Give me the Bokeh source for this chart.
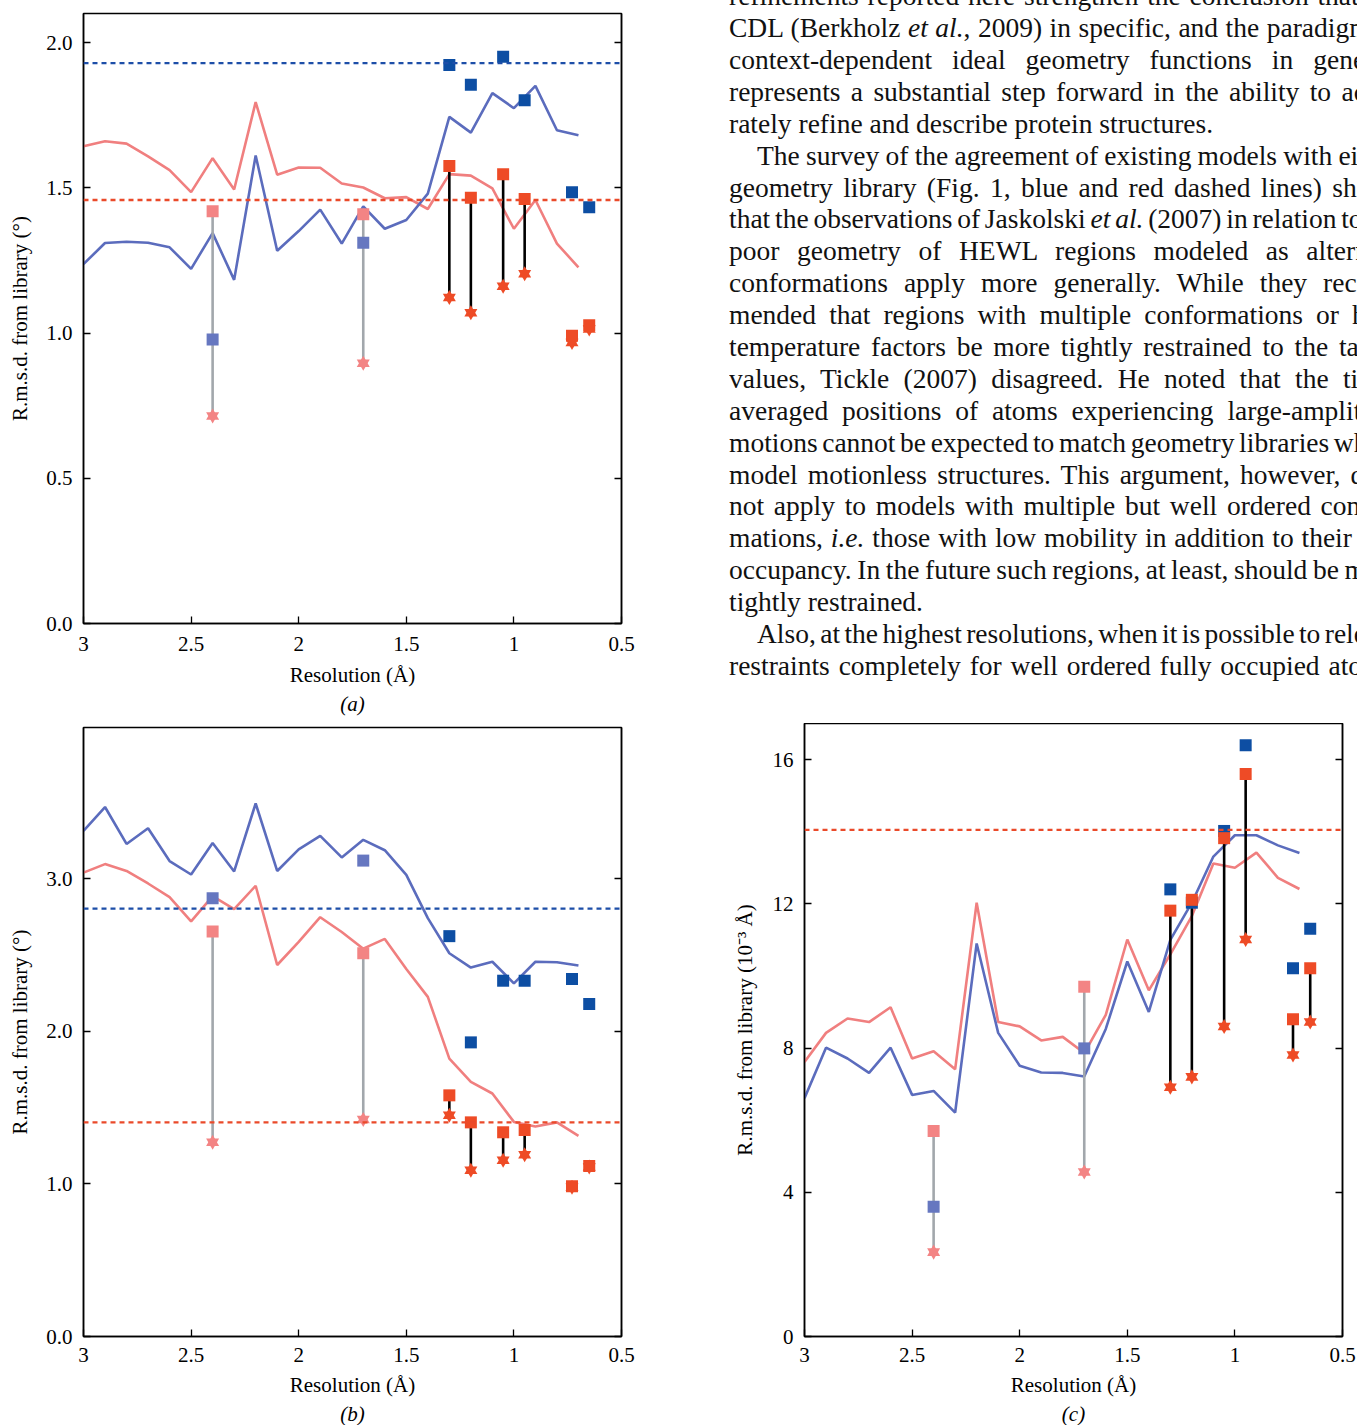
from bokeh.plotting import figure
from bokeh.models import (Range1d, LinearAxis, FixedTicker, PrintfTickFormatter,
                          CustomJSTickFormatter, Span, Title, Div)
from bokeh.layouts import row, column
from bokeh.embed import file_html
from bokeh.resources import INLINE

# ---------------- data ----------------
res_line = [3.0, 2.9, 2.8, 2.7, 2.6, 2.5, 2.4, 2.3, 2.2, 2.1, 2.0, 1.9,
            1.8, 1.7, 1.6, 1.5, 1.4, 1.3, 1.2, 1.1, 1.0, 0.9, 0.8, 0.7]

a_blue_line = [1.237, 1.310, 1.314, 1.311, 1.295, 1.221, 1.344, 1.183, 1.611, 1.283,
               1.351, 1.425, 1.308, 1.436, 1.359, 1.389, 1.480, 1.744, 1.690, 1.826,
               1.774, 1.851, 1.698, 1.681]
a_red_line = [1.643, 1.660, 1.652, 1.608, 1.561, 1.485, 1.602, 1.494, 1.795, 1.545,
              1.570, 1.569, 1.515, 1.501, 1.464, 1.468, 1.427, 1.547, 1.542, 1.498,
              1.359, 1.458, 1.308, 1.226]
b_blue_line = [3.313, 3.469, 3.227, 3.330, 3.115, 3.027, 3.233, 3.047, 3.492, 3.050,
               3.192, 3.280, 3.139, 3.254, 3.186, 3.024, 2.741, 2.511, 2.417, 2.455,
               2.314, 2.455, 2.452, 2.431]
b_red_line = [3.039, 3.095, 3.050, 2.968, 2.879, 2.720, 2.885, 2.800, 2.953, 2.434,
              2.585, 2.747, 2.650, 2.541, 2.605, 2.408, 2.225, 1.821, 1.668, 1.592,
              1.406, 1.376, 1.403, 1.314]
c_blue_line = [6.61, 8.01, 7.71, 7.31, 8.01, 6.70, 6.81, 6.21, 10.90, 8.42,
               7.51, 7.32, 7.31, 7.21, 8.53, 10.40, 9.00, 11.00, 12.03, 13.31,
               13.90, 13.90, 13.62, 13.41]
c_red_line = [7.61, 8.42, 8.82, 8.72, 9.13, 7.71, 7.91, 7.41, 12.03, 8.72,
              8.60, 8.21, 8.31, 7.86, 8.92, 11.01, 9.60, 10.60, 11.66, 13.12,
              13.00, 13.42, 12.72, 12.41]

# library reference levels (dashed)
a_blue_ref, a_red_ref = 1.929, 1.458
b_blue_ref, b_red_ref = 2.803, 1.403
c_red_ref = 14.05

# low-resolution test structures (grey connectors)
low_x = [2.4, 1.7]
a_low_blue = [0.978, 1.311]
a_low_red = [1.419, 1.409]
a_low_star = [0.714, 0.896]
b_low_blue = [2.871, 3.118]
b_low_red = [2.653, 2.511]
b_low_star = [1.273, 1.421]
c_low_blue = [3.60, 7.99]
c_low_red = [5.70, 9.70]
c_low_star = [2.34, 4.56]

# high-resolution test structures (black connectors)
hi_x = [1.3, 1.2, 1.05, 0.95, 0.73, 0.65]
a_hi_blue = [1.923, 1.855, 1.951, 1.801, 1.485, 1.433]
a_hi_red = [1.575, 1.466, 1.547, 1.461, 0.991, 1.027]
a_hi_star = [1.122, 1.070, 1.161, 1.204, 0.967, 1.014]
b_hi_blue = [2.623, 1.927, 2.331, 2.331, 2.343, 2.178]
b_hi_red = [1.580, 1.403, 1.338, 1.353, 0.984, 1.117]
b_hi_star = [1.450, 1.090, 1.155, 1.191, 0.978, 1.111]
c_hi_blue = [12.40, 12.03, 14.02, 16.40, 10.21, 11.31]
c_hi_red = [11.81, 12.11, 13.82, 15.60, 8.80, 10.21]
c_hi_star = [6.91, 7.20, 8.60, 11.01, 7.81, 8.72]

x_ticks = [3, 2.5, 2, 1.5, 1, 0.5]
a_yticks = [0, 0.5, 1.0, 1.5, 2.0]
b_yticks = [0, 1.0, 2.0, 3.0]
c_yticks = [0, 4, 8, 12, 16]

text_lines = [
    ("refinements reported here strengthen the conclusion that the", "j"),
    ("CDL (Berkholz <i>et al.</i>, 2009) in specific, and the paradigm of", "j"),
    ("context-dependent ideal geometry functions in general,", "j"),
    ("represents a substantial step forward in the ability to accu-", "j"),
    ("rately refine and describe protein structures.", "l"),
    ("The survey of the agreement of existing models with either", "ji"),
    ("geometry library (Fig. 1, blue and red dashed lines) shows", "j"),
    ("that the observations of Jaskolski <i>et al.</i> (2007) in relation to the", "j"),
    ("poor geometry of HEWL regions modeled as alternate", "j"),
    ("conformations apply more generally. While they recom-", "j"),
    ("mended that regions with multiple conformations or high", "j"),
    ("temperature factors be more tightly restrained to the target", "j"),
    ("values, Tickle (2007) disagreed. He noted that the time-", "j"),
    ("averaged positions of atoms experiencing large-amplitude", "j"),
    ("motions cannot be expected to match geometry libraries which", "j"),
    ("model motionless structures. This argument, however, does", "j"),
    ("not apply to models with multiple but well ordered confor-", "j"),
    ("mations, <i>i.e.</i> those with low mobility in addition to their low", "j"),
    ("occupancy. In the future such regions, at least, should be more", "j"),
    ("tightly restrained.", "l"),
    ("Also, at the highest resolutions, when it is possible to release", "ji"),
    ("restraints completely for well ordered fully occupied atoms,", "j"),
]

# ---------------- style ----------------
FONT = "Liberation Serif"
BLUE_LINE = "#5b6cbd"
RED_LINE = "#f07f7f"
BLUE_SQ = "#0d4ea3"
RED_SQ = "#ee4b26"
PINK = "#f38484"
LBLUE_SQ = "#6677c0"
DASH_BLUE = "#1d4ea8"
DASH_RED = "#ea4a2a"
GREY = "#a2a7ac"


def panel(width, height, y_end, yticks, yfmt, ylabel, tag, bl, br, bt, bb, yals):
    p = figure(width=width, height=height, x_range=Range1d(3, 0.5),
               y_range=Range1d(0, y_end), output_backend="svg",
               toolbar_location=None, min_border=0, min_border_left=bl,
               min_border_right=br, min_border_top=bt, min_border_bottom=bb,
               margin=0)
    p.grid.visible = False
    p.outline_line_color = "black"
    p.outline_line_width = 1.5
    p.background_fill_color = "white"
    p.border_fill_color = "white"

    xa = p.xaxis[0]
    xa.ticker = FixedTicker(ticks=x_ticks)
    xa.formatter = CustomJSTickFormatter(code="return tick.toString();")
    ya = p.yaxis[0]
    ya.ticker = FixedTicker(ticks=yticks)
    ya.formatter = PrintfTickFormatter(format=yfmt)
    ya.axis_label = ylabel
    xa.axis_label = "Resolution (Å)"
    for ax in (xa, ya):
        ax.major_tick_in = 7
        ax.major_tick_out = 0
        ax.minor_tick_line_color = None
        ax.axis_line_width = 1.5
        ax.major_tick_line_width = 1.3
        ax.major_label_text_font = FONT
        ax.major_label_text_font_size = "21px"
        ax.major_label_text_color = "black"
        ax.axis_label_text_font = FONT
        ax.axis_label_text_font_size = "21px"
        ax.axis_label_text_font_style = "normal"
        ax.axis_label_text_color = "black"
    xa.major_label_standoff = 11
    xa.axis_label_standoff = 8
    ya.major_label_standoff = 11
    ya.axis_label_standoff = yals

    ra = LinearAxis(ticker=FixedTicker(ticks=yticks),
                    formatter=CustomJSTickFormatter(code="return '';"),
                    major_tick_in=7, major_tick_out=0, major_label_standoff=0,
                    minor_tick_line_color=None, axis_line_width=1.5,
                    major_tick_line_width=1.3)
    p.add_layout(ra, "right")

    t = Title(text=tag, align="center", text_font=FONT, text_font_size="21px",
              text_font_style="italic", text_color="black", standoff=0)
    p.add_layout(t, "below")
    return p


def draw(p, blue_line, red_line, refs, low, hi):
    p.line(res_line, red_line, line_color=RED_LINE, line_width=2.6)
    p.line(res_line, blue_line, line_color=BLUE_LINE, line_width=2.6)
    for loc, col in refs:
        p.add_layout(Span(location=loc, dimension="width", line_color=col,
                          line_width=2.4, line_dash="5 4"))
    lb, lr, ls = low
    hb, hr, hs = hi
    p.segment(low_x, lr, low_x, ls, line_color=GREY, line_width=2.6)
    p.segment(hi_x, hr, hi_x, hs, line_color="black", line_width=2.6)
    for mk in ("triangle", "inverted_triangle"):
        p.scatter(low_x, ls, marker=mk, size=13, color=PINK, line_width=0)
        p.scatter(hi_x, hs, marker=mk, size=13, color=RED_SQ, line_width=0)
    p.scatter(low_x, lb, marker="square", size=12, color=LBLUE_SQ, line_width=0)
    p.scatter(low_x, lr, marker="square", size=12, color=PINK, line_width=0)
    p.scatter(hi_x, hb, marker="square", size=12, color=BLUE_SQ, line_width=0)
    p.scatter(hi_x, hr, marker="square", size=12, color=RED_SQ, line_width=0)


pa = panel(729, 723, 2.1, a_yticks, "%.1f", "R.m.s.d. from library (°)", "(a)",
           83, 108, 13, 100, 11)
pa.xaxis[0].major_label_standoff = 13
pa.xaxis[0].axis_label_standoff = 9
draw(pa, a_blue_line, a_red_line, [(a_blue_ref, DASH_BLUE), (a_red_ref, DASH_RED)],
     (a_low_blue, a_low_red, a_low_star), (a_hi_blue, a_hi_red, a_hi_star))

pb = panel(729, 702, 3.99, b_yticks, "%.1f", "R.m.s.d. from library (°)", "(b)",
           83, 108, 4, 87, 11)
draw(pb, b_blue_line, b_red_line, [(b_blue_ref, DASH_BLUE), (b_red_ref, DASH_RED)],
     (b_low_blue, b_low_red, b_low_star), (b_hi_blue, b_hi_red, b_hi_star))

pc = panel(628, 702, 17.0, c_yticks, "%d", "R.m.s.d. from library (10\u207b\u00b3 Å)", "(c)",
           75, 15, 0, 88, 13)
draw(pc, c_blue_line, c_red_line, [(c_red_ref, DASH_RED)],
     (c_low_blue, c_low_red, c_low_star), (c_hi_blue, c_hi_red, c_hi_star))

# ---------------- text column ----------------
rows_html = []
for txt, mode in text_lines:
    if mode == "l":
        st = "text-align:left;text-align-last:left;"
    else:
        st = "text-align:justify;text-align-last:justify;word-spacing:-2.5px;"
    if "i" in mode:
        st += "text-indent:28px;"
    rows_html.append(
        f'<div style="height:31.9px;line-height:31.9px;white-space:nowrap;{st}">{txt}</div>')
html = (
    '<div style="position:relative;width:628px;height:720px;overflow-x:clip;overflow-y:visible;">'
    '<div style="position:absolute;left:0;top:-19.8px;width:672px;'
    f'font-family:\'{FONT}\';font-size:27.5px;color:#111;">'
    + "".join(rows_html) + '</div></div>')
txt_div = Div(text=html, width=628, height=723, margin=0)

layout = column(row(pa, txt_div, spacing=0),
                row(column(pb, spacing=0), column(pc, spacing=0), spacing=0),
                spacing=0)

open("out.html", "w").write(file_html(layout, INLINE))
